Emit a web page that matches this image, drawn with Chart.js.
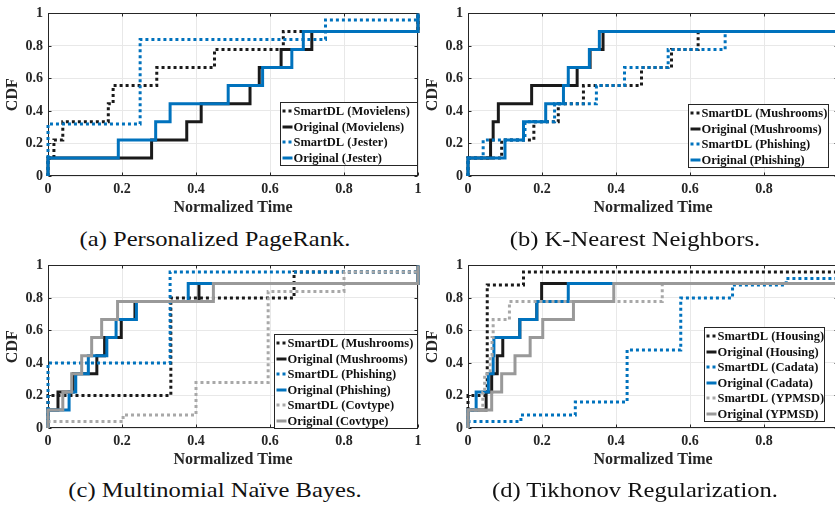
<!DOCTYPE html>
<html>
<head>
<meta charset="utf-8">
<title>CDF of normalized time</title>
<script src="https://cdn.jsdelivr.net/npm/chart.js@4.4.0/dist/chart.umd.min.js"></script>
<style>
  body { margin: 0; width: 835px; height: 506px; overflow: hidden; background: #fff; position: relative; }
  canvas { position: absolute; }
  .cap {
    position: absolute; white-space: nowrap;
    font-family: "Liberation Serif", serif; font-size: 21px; color: #111;
    transform: translate(-50%, -50%) scaleX(1.17);
  }
</style>
</head>
<body>
<canvas id="chartA" width="430" height="220" style="left:0;top:0"></canvas>
<canvas id="chartB" width="430" height="220" style="left:420px;top:0"></canvas>
<canvas id="chartC" width="430" height="220" style="left:0;top:252px"></canvas>
<canvas id="chartD" width="430" height="220" style="left:420px;top:252px"></canvas>
<div class="cap" style="left:215px;top:239px">(a) Personalized PageRank.</div>
<div class="cap" style="left:635px;top:239px">(b) K-Nearest Neighbors.</div>
<div class="cap" style="left:215px;top:490px">(c) Multinomial Naïve Bayes.</div>
<div class="cap" style="left:635px;top:490px">(d) Tikhonov Regularization.</div>

<script>
// tick labels shared by every panel
const xTickLabels = ['0', '0.2', '0.4', '0.6', '0.8', '1'];
const yTickLabels = ['0', '0.2', '0.4', '0.6', '0.8', '1'];

// CDF levels for runs with 9 jobs
const levels9 = [0, 0.111, 0.222, 0.333, 0.444, 0.556, 0.667, 0.778, 0.889, 1];

// (a) Personalized PageRank
const prMovielensSmartX = [0, 0, 0.016, 0.04, 0.163, 0.176, 0.294, 0.45, 0.636, 1];
const prMovielensOrigX  = [0, 0, 0.28, 0.375, 0.414, 0.546, 0.571, 0.63, 0.713, 1];
const prJesterSmartX    = [0, 0, 0.249, 0.75, 1];
const prJesterSmartY    = [0, 0.32, 0.84, 0.96, 1];
const prJesterOrigX     = [0, 0, 0.19, 0.291, 0.33, 0.487, 0.58, 0.659, 0.69, 1];

// (b) K-Nearest Neighbors
const knnMushSmartX  = [0, 0, 0.091, 0.178, 0.244, 0.312, 0.469, 0.55, 0.622, 1];
const knnMushOrigX   = [0, 0, 0.061, 0.068, 0.082, 0.172, 0.295, 0.33, 0.365, 1];
const knnPhishSmartX = [0, 0, 0.041, 0.154, 0.234, 0.347, 0.423, 0.541, 0.695, 1];
const knnPhishOrigX  = [0, 0, 0.1, 0.15, 0.21, 0.258, 0.271, 0.328, 0.355, 1];

// (c) Multinomial Naive Bayes
const nbMushSmartX  = [0, 0, 0.332, 0.665, 1];
const nbMushSmartY  = [0, 0.2, 0.8, 0.96, 1];
const nbMushOrigX   = [0, 0, 0.027, 0.068, 0.132, 0.153, 0.198, 0.235, 0.408, 1];
const nbPhishSmartX = [0, 0, 0.33, 1];
const nbPhishSmartY = [0, 0.4, 0.96, 1];
const nbPhishOrigX  = [0, 0, 0.057, 0.075, 0.109, 0.159, 0.184, 0.239, 0.379, 1];
const nbCovSmartX   = [0, 0, 0.203, 0.4, 0.595, 0.8, 1];
const nbCovSmartY   = [0, 0.04, 0.08, 0.28, 0.84, 0.96, 1];
const nbCovOrigX    = [0, 0, 0.04, 0.064, 0.091, 0.118, 0.145, 0.188, 0.447, 1];

// (d) Tikhonov Regularization
const tkHousSmartX  = [0, 0, 0.052, 0.15, 1];
const tkHousSmartY  = [0, 0.2, 0.88, 0.96, 1];
const tkHousOrigX   = [0, 0, 0.049, 0.064, 0.079, 0.094, 0.14, 0.186, 0.199, 1];
const tkCadSmartX   = [0, 0, 0.143, 0.29, 0.43, 0.575, 0.715, 0.86, 1];
const tkCadSmartY   = [0, 0.04, 0.08, 0.16, 0.48, 0.8, 0.88, 0.92, 1];
const tkCadOrigX    = [0, 0, 0.022, 0.055, 0.068, 0.07, 0.14, 0.186, 0.271, 1];
const tkYpSmartX    = [0, 0, 0.04, 0.045, 0.06, 0.065, 0.068, 0.112, 0.525, 1];
const tkYpOrigX     = [0, 0, 0.064, 0.091, 0.127, 0.168, 0.202, 0.285, 0.394, 1];

const FONT = '"Liberation Serif", "Times New Roman", serif';
const INK = '#262626';

const STYLES = {
  smartBlack: { color: '#1a1a1a', dash: [3, 3] },
  origBlack:  { color: '#1a1a1a', dash: [] },
  smartBlue:  { color: '#0072bd', dash: [3, 3] },
  origBlue:   { color: '#0072bd', dash: [] },
  smartGray:  { color: '#a8a8a8', dash: [3, 3] },
  origGray:   { color: '#999999', dash: [] }
};

function series(label, xs, ys, styleName, idx) {
  const st = STYLES[styleName];
  return {
    label: label,
    data: xs.map((x, i) => ({ x: x, y: ys[i] })),
    borderColor: st.color,
    borderWidth: 3,
    borderDash: st.dash,
    borderJoinStyle: 'miter',
    stepped: 'before',
    pointRadius: 0,
    fill: false,
    clip: 5,
    order: -idx   // later series drawn on top, like MATLAB
  };
}

// frame around the plot area with small inward ticks
const axesBox = {
  id: 'axesBox',
  beforeDatasetsDraw(chart) {
    const { ctx, chartArea: a, scales } = chart;
    ctx.save();
    ctx.strokeStyle = INK;
    ctx.lineWidth = 1;
    const l = Math.round(a.left) + 0.5, r = Math.round(a.right) - 0.5;
    const t = Math.round(a.top) + 0.5, b = Math.round(a.bottom) - 0.5;
    ctx.strokeRect(l, t, r - l, b - t);
    ctx.beginPath();
    scales.x.ticks.forEach(tk => {
      const px = Math.round(scales.x.getPixelForValue(tk.value)) + 0.5;
      ctx.moveTo(px, b); ctx.lineTo(px, b - 3);
      ctx.moveTo(px, t); ctx.lineTo(px, t + 3);
    });
    scales.y.ticks.forEach(tk => {
      const py = Math.round(scales.y.getPixelForValue(tk.value)) + 0.5;
      ctx.moveTo(l, py); ctx.lineTo(l + 3, py);
      ctx.moveTo(r, py); ctx.lineTo(r - 3, py);
    });
    ctx.stroke();
    ctx.restore();
  }
};

// boxed legend in the lower right corner of the plot area
const boxLegend = {
  id: 'boxLegend',
  afterDatasetsDraw(chart, args, opts) {
    const { ctx, chartArea: a } = chart;
    const sets = chart.data.datasets;
    const rowH = 15.5;
    const h = sets.length * rowH + 1;
    const bx = Math.round(a.right - opts.right - opts.width) + 0.5;
    const by = Math.round(a.bottom - opts.bottom - h) + 0.5;
    ctx.save();
    ctx.fillStyle = '#fff';
    ctx.fillRect(bx, by, opts.width, h);
    ctx.strokeStyle = INK;
    ctx.lineWidth = 1;
    ctx.strokeRect(bx, by, opts.width, h);
    ctx.font = 'bold 12.5px ' + FONT;
    ctx.textBaseline = 'middle';
    sets.forEach((ds, i) => {
      const cy = Math.round(by + 1 + rowH * (i + 0.5));
      ctx.strokeStyle = ds.borderColor;
      ctx.lineWidth = 3;
      ctx.setLineDash(ds.borderDash);
      ctx.beginPath();
      ctx.moveTo(bx + 2, cy);
      ctx.lineTo(bx + 12, cy);
      ctx.stroke();
      ctx.setLineDash([]);
      ctx.fillStyle = '#111';
      ctx.fillText(ds.label, bx + 13, cy + 1);
    });
    ctx.restore();
  }
};

function axis(title, labels, isX) {
  return {
    type: 'linear',
    min: 0,
    max: 1,
    afterFit: s => { if (isX) s.height = 44; else s.width = 48; },
    ticks: {
      stepSize: 0.2,
      autoSkip: false,
      maxRotation: 0,
      padding: isX ? 5 : 5,
      color: INK,
      font: { family: FONT, size: 14, weight: 'bold' },
      callback: (v, i) => labels[i]
    },
    grid: { color: '#e8e8e8', drawTicks: false },
    border: { display: false },
    title: {
      display: true,
      text: title,
      color: INK,
      font: { family: FONT, size: 16, weight: 'bold' },
      padding: isX ? { top: 0, bottom: 3 } : { top: 3, bottom: 0 }
    }
  };
}

function makePanel(id, datasets, legendPos) {
  return new Chart(document.getElementById(id), {
    type: 'line',
    data: { datasets: datasets },
    options: {
      responsive: false,
      animation: false,
      layout: { padding: { top: 13, right: 12, bottom: 0, left: 0 } },
      plugins: {
        legend: { display: false },
        tooltip: { enabled: false },
        boxLegend: legendPos
      },
      scales: {
        x: axis('Normalized Time', xTickLabels, true),
        y: axis('CDF', yTickLabels, false)
      }
    },
    plugins: [axesBox, boxLegend]
  });
}

makePanel('chartA', [
  series('SmartDL (Movielens)', prMovielensSmartX, levels9, 'smartBlack', 0),
  series('Original (Movielens)', prMovielensOrigX, levels9, 'origBlack', 1),
  series('SmartDL (Jester)', prJesterSmartX, prJesterSmartY, 'smartBlue', 2),
  series('Original (Jester)', prJesterOrigX, levels9, 'origBlue', 3)
], { right: 1, bottom: 11, width: 137 });

makePanel('chartB', [
  series('SmartDL (Mushrooms)', knnMushSmartX, levels9, 'smartBlack', 0),
  series('Original (Mushrooms)', knnMushOrigX, levels9, 'origBlack', 1),
  series('SmartDL (Phishing)', knnPhishSmartX, levels9, 'smartBlue', 2),
  series('Original (Phishing)', knnPhishOrigX, levels9, 'origBlue', 3)
], { right: 10, bottom: 9, width: 140 });

makePanel('chartC', [
  series('SmartDL (Mushrooms)', nbMushSmartX, nbMushSmartY, 'smartBlack', 0),
  series('Original (Mushrooms)', nbMushOrigX, levels9, 'origBlack', 1),
  series('SmartDL (Phishing)', nbPhishSmartX, nbPhishSmartY, 'smartBlue', 2),
  series('Original (Phishing)', nbPhishOrigX, levels9, 'origBlue', 3),
  series('SmartDL (Covtype)', nbCovSmartX, nbCovSmartY, 'smartGray', 4),
  series('Original (Covtype)', nbCovOrigX, levels9, 'origGray', 5)
], { right: 1, bottom: 0, width: 143 });

makePanel('chartD', [
  series('SmartDL (Housing)', tkHousSmartX, tkHousSmartY, 'smartBlack', 0),
  series('Original (Housing)', tkHousOrigX, levels9, 'origBlack', 1),
  series('SmartDL (Cadata)', tkCadSmartX, tkCadSmartY, 'smartBlue', 2),
  series('Original (Cadata)', tkCadOrigX, levels9, 'origBlue', 3),
  series('SmartDL (YPMSD)', tkYpSmartX, levels9, 'smartGray', 4),
  series('Original (YPMSD)', tkYpOrigX, levels9, 'origGray', 5)
], { right: 14, bottom: 7, width: 120 });
</script>
</body>
</html>
